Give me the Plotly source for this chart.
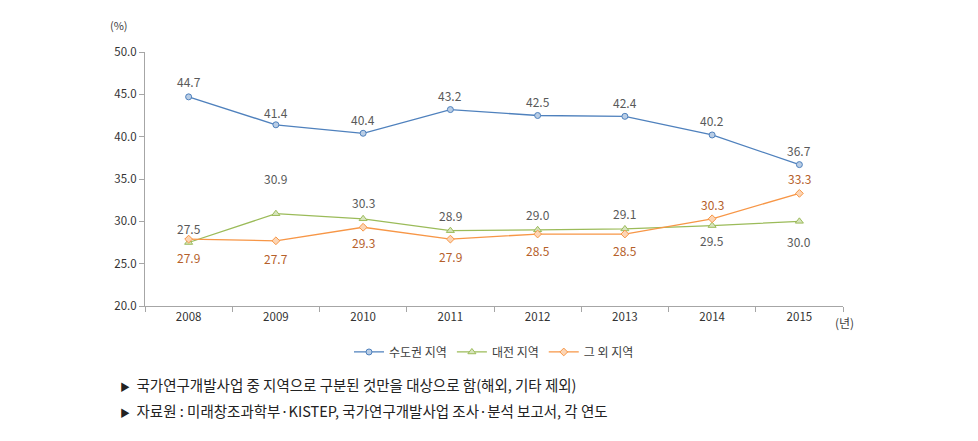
import plotly.graph_objects as go

years = ["2008", "2009", "2010", "2011", "2012", "2013", "2014", "2015"]
capital = [44.7, 41.4, 40.4, 43.2, 42.5, 42.4, 40.2, 36.7]
daejeon = [27.5, 30.9, 30.3, 28.9, 29.0, 29.1, 29.5, 30.0]
others = [27.9, 27.7, 29.3, 27.9, 28.5, 28.5, 30.3, 33.3]
names = ["수도권 지역", "대전 지역", "그 외 지역"]

# label pixel offsets (style)
cap_shift = [15, 12, 14, 14, 14, 14, 14, 14]
dae_shift = [14, 35, 16, 15, 15, 15, -15, -20]
oth_shift = [-18, -18, -15, -17, -16, -16, 14, 15]

FONT = "Noto Sans CJK KR"
fig = go.Figure()
series = [
    (capital, names[0], "#4F81BD", "#B9CDE5", "circle", 6, cap_shift, "#595959"),
    (daejeon, names[1], "#9BBB59", "#D7E4BD", "triangle-up", 7, dae_shift, "#595959"),
    (others, names[2], "#F79646", "#FCD5B5", "diamond", 6, oth_shift, "#B5602A"),
]
for vals, nm, lc, fc, sym, ms, shifts, tc in series:
    fig.add_trace(go.Scatter(
        x=years, y=vals, name=nm, mode="lines+markers",
        line=dict(color=lc, width=1.3),
        marker=dict(symbol=sym, size=ms, color=fc, line=dict(color=lc, width=1)),
    ))
    for i, (v, s) in enumerate(zip(vals, shifts)):
        fig.add_annotation(x=i, y=v, text=f"{v:.1f}", showarrow=False, yshift=s,
                           font=dict(size=12, color=tc, family=FONT))

BUL = "<span style='font-size:10px'>▶</span>  "
fig.add_annotation(xref="paper", yref="paper", x=-0.037, y=1.106, xanchor="center", yanchor="middle",
                   text="(%)", showarrow=False, font=dict(size=11, color="#404040", family=FONT))
fig.add_annotation(xref="paper", yref="paper", x=0.985, y=-0.066, xanchor="left", yanchor="middle",
                   text="(년)", showarrow=False, font=dict(size=12, color="#404040", family=FONT))
fig.add_annotation(xref="paper", yref="paper", x=-0.039, y=-0.311, xanchor="left", yanchor="middle",
                   text=BUL + "국가연구개발사업 중 지역으로 구분된 것만을 대상으로 함(해외, 기타 제외)",
                   showarrow=False, font=dict(size=14.5, color="#222222", family=FONT))
fig.add_annotation(xref="paper", yref="paper", x=-0.039, y=-0.41, xanchor="left", yanchor="middle",
                   text=BUL + "자료원 : 미래창조과학부·KISTEP, 국가연구개발사업 조사·분석 보고서, 각 연도",
                   showarrow=False, font=dict(size=14.5, color="#222222", family=FONT))

fig.update_layout(
    width=978, height=441, paper_bgcolor="white", plot_bgcolor="white",
    margin=dict(l=145, r=135, t=52, b=135),
    font=dict(family=FONT, color="#404040", size=11),
    showlegend=True,
    legend=dict(orientation="h", x=0.5, xanchor="center", y=-0.181, yanchor="middle",
                font=dict(size=12, color="#404040"), itemwidth=30),
    xaxis=dict(type="category", showline=True, linecolor="#A6A6A6", ticks="outside",
               tickson="boundaries", ticklen=5, tickcolor="#A6A6A6", showgrid=False,
               tickfont=dict(size=11.5, color="#333333"), range=[-0.5, 7.5]),
    yaxis=dict(range=[20, 50], dtick=5, tickformat=".1f", showline=True, linecolor="#A6A6A6",
               ticks="outside", ticklen=5, tickcolor="#A6A6A6", showgrid=False, zeroline=False,
               tickfont=dict(size=11.5, color="#333333")),
)
fig.write_html("out.html", config={"displayModeBar": False},
               post_script="document.body.style.margin='0';")
